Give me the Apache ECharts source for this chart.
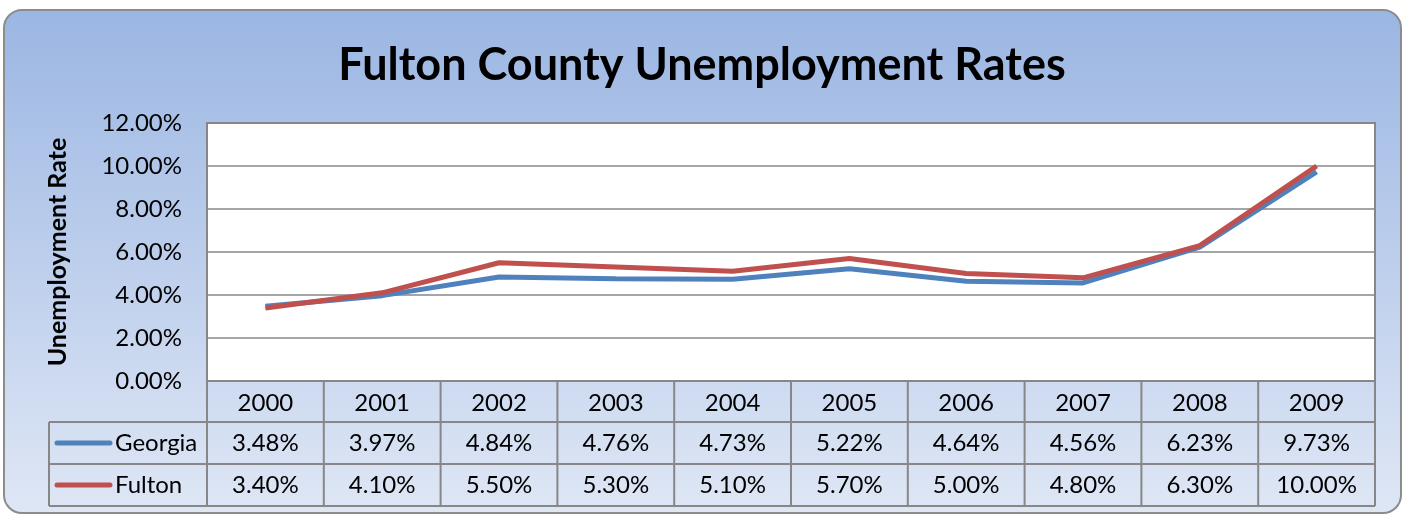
<!DOCTYPE html>
<html>
<head>
<meta charset="utf-8">
<script src="https://cdn.jsdelivr.net/npm/echarts@6/dist/echarts.min.js"></script>
<style>
  html, body { margin: 0; padding: 0; background: #ffffff; }
  #chart { width: 1404px; height: 515px; }
</style>
</head>
<body>
<div id="chart"></div>
<script>
// Annual unemployment rates (%)
const years = ['2000', '2001', '2002', '2003', '2004', '2005', '2006', '2007', '2008', '2009'];
const georgia = [3.48, 3.97, 4.84, 4.76, 4.73, 5.22, 4.64, 4.56, 6.23, 9.73];
const fulton = [3.40, 4.10, 5.50, 5.30, 5.10, 5.70, 5.00, 4.80, 6.30, 10.00];
const seriesNames = ['Georgia', 'Fulton'];
const seriesColors = ['#4f81bd', '#c0504d'];

const FONT = 'Lato, "Liberation Sans", sans-serif';
const FS = 24;
const GRID = { left: 207, top: 123, width: 1168, height: 258 };
const ROW_H = 42;
const TABLE_LEFT = 49;
const LINE_GRAY = '#878787';

const chart = echarts.init(document.getElementById('chart'), null, { renderer: 'canvas' });

const pct = v => v.toFixed(2) + '%';

chart.setOption({
  backgroundColor: '#ffffff',
  animation: false,
  title: {
    text: 'Fulton County Unemployment Rates',
    left: 'center',
    top: 38,
    textStyle: { fontFamily: FONT, fontWeight: 'bold', fontSize: 45, color: '#000' }
  },
  grid: {
    left: GRID.left, top: GRID.top, width: GRID.width, height: GRID.height,
    show: true, backgroundColor: '#ffffff', borderColor: LINE_GRAY, borderWidth: 2,
    containLabel: false
  },
  xAxis: {
    type: 'category',
    data: years,
    boundaryGap: true,
    axisLine: { show: false },
    axisTick: { show: false },
    axisLabel: { margin: 10, fontFamily: FONT, fontSize: FS, color: '#000' }
  },
  yAxis: {
    type: 'value',
    min: 0, max: 12, interval: 2,
    name: 'Unemployment Rate',
    nameLocation: 'middle',
    nameGap: 137,
    nameTextStyle: { fontFamily: FONT, fontWeight: 'bold', fontSize: 25, color: '#000' },
    axisLine: { show: false },
    axisTick: { show: false },
    axisLabel: { margin: 25, fontFamily: FONT, fontSize: FS, color: '#000', formatter: pct },
    splitLine: { lineStyle: { color: LINE_GRAY, width: 1.5 } }
  },
  series: [
    { name: seriesNames[0], type: 'line', data: georgia, symbol: 'none',
      lineStyle: { color: seriesColors[0], width: 5 }, z: 3 },
    { name: seriesNames[1], type: 'line', data: fulton, symbol: 'none',
      lineStyle: { color: seriesColors[1], width: 5 }, z: 4 }
  ]
});

// Chart frame, data table grid, legend keys and table values
function buildGraphics() {
  const els = [];
  // rounded frame with vertical gradient
  els.push({
    type: 'rect', z: -10, silent: true,
    shape: { x: 4, y: 10, width: 1397, height: 503, r: 18 },
    style: {
      fill: new echarts.graphic.LinearGradient(0, 0, 0, 1, [
        { offset: 0, color: '#9bb6e3' },
        { offset: 1, color: '#dfe7f5' }
      ]),
      stroke: '#8c8c8c', lineWidth: 2
    }
  });

  const right = GRID.left + GRID.width;
  const headTop = GRID.top + GRID.height;
  const rowTops = [headTop + 41, headTop + 41 + ROW_H];
  const bottom = rowTops[1] + ROW_H;
  const line = (x1, y1, x2, y2) => ({
    type: 'line', z: 50, silent: true,
    shape: { x1, y1, x2, y2 },
    style: { stroke: LINE_GRAY, lineWidth: 2 }
  });

  // horizontal rules
  [rowTops[0], rowTops[1], bottom].forEach(y => els.push(line(TABLE_LEFT, y, right, y)));
  // vertical rules
  els.push(line(TABLE_LEFT, rowTops[0], TABLE_LEFT, bottom));
  const colW = GRID.width / years.length;
  for (let i = 0; i <= years.length; i++) {
    const x = GRID.left + i * colW;
    els.push(line(x, headTop, x, bottom));
  }

  const rows = [georgia, fulton];
  rows.forEach((vals, r) => {
    const cy = rowTops[r] + ROW_H / 2;
    // legend key
    els.push({
      type: 'line', z: 51, silent: true,
      shape: { x1: 57, y1: cy, x2: 110, y2: cy },
      style: { stroke: seriesColors[r], lineWidth: 5, lineCap: 'round' }
    });
    els.push({
      type: 'text', z: 51, silent: true,
      x: 115, y: cy,
      style: { text: seriesNames[r], font: FS + 'px ' + FONT, fill: '#000',
               verticalAlign: 'middle', align: 'left' }
    });
    vals.forEach((v, i) => {
      const cx = chart.convertToPixel({ xAxisIndex: 0 }, years[i]);
      els.push({
        type: 'text', z: 51, silent: true,
        x: cx, y: cy,
        style: { text: pct(v), font: FS + 'px ' + FONT, fill: '#000',
                 verticalAlign: 'middle', align: 'center' }
      });
    });
  });
  return els;
}

chart.setOption({ graphic: { elements: buildGraphics() } });
</script>
</body>
</html>
